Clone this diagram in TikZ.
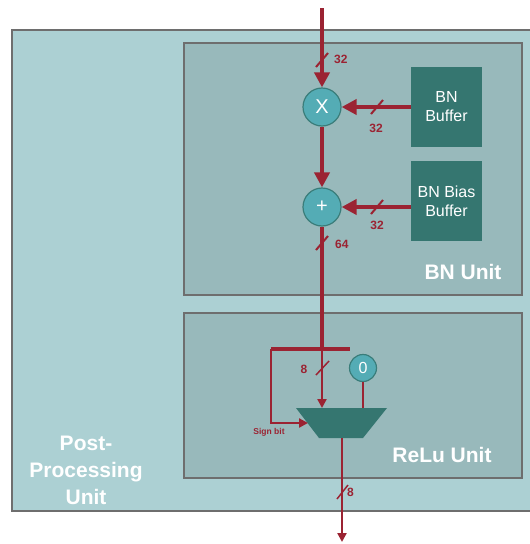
\documentclass[tikz,border=0pt]{standalone}
\usepackage{fontspec}
\setmainfont{Liberation Sans}
\usetikzlibrary{arrows.meta}
\definecolor{outerfill}{RGB}{172,208,211}
\definecolor{innerfill}{RGB}{152,185,187}
\definecolor{boxfill}{RGB}{53,118,112}
\definecolor{circfill}{RGB}{84,172,181}
\definecolor{circline}{RGB}{58,125,122}
\definecolor{wire}{RGB}{155,35,50}
\definecolor{frame}{RGB}{110,110,110}
\tikzset{
  unit/.style={draw=frame,line width=1.5pt},
  buf/.style={fill=boxfill,draw=none,minimum width=71pt,minimum height=80pt,inner sep=0pt,text=white,font=\fontsize{16}{19}\selectfont,align=center},
  op/.style={circle,fill=circfill,draw=circline,line width=1.2pt,minimum size=38pt,inner sep=0pt,text=white,font=\fontsize{20}{20}\selectfont},
  bigwire/.style={draw=wire,line width=4pt,-{Triangle[length=15pt,width=15pt]}},
  thinwire/.style={draw=wire,line width=2.5pt},
  smallarrow/.style={thinwire,-{Triangle[length=9pt,width=9pt]}},
  slash/.style={draw=wire,line width=2pt},
  bits/.style={text=wire,font=\bfseries\fontsize{12}{12}\selectfont,inner sep=0pt},
  title/.style={text=white,font=\bfseries\fontsize{21}{27}\selectfont,align=center,inner sep=0pt}
}
\begin{document}
\begin{tikzpicture}[x=1pt,y=-1pt]
\useasboundingbox (0,0) rectangle (530,544);
% frames
\fill[outerfill] (12,30) rectangle (531,511);
\draw[unit] (531,30) -- (12,30) -- (12,511) -- (531,511);
\draw[unit,fill=innerfill] (184,43) rectangle (522,295);
\draw[unit,fill=innerfill] (184,313) rectangle (522,478);
\node[title] (bnunit) at (463,272) {BN Unit};
\node[title] (reluunit) at (442,455) {ReLu Unit};
\node[title] (ppu) at (86,470) {Post-\\Processing\\Unit};
% blocks
\node[buf] (bnbuf) at (446.5,107) {BN\\Buffer};
\node[buf] (bnbias) at (446.5,201) {BN Bias\\Buffer};
\node[op] (mul) at (322,107) {X};
\node[op] (add) at (322,207) {+};
\node[op,minimum size=27pt,font=\fontsize{16}{16}\selectfont] (zero) at (363,368) {0};
% mux
\coordinate (muxTL) at (296,408);
\coordinate (muxTR) at (387,408);
\coordinate (muxBR) at (363,438);
\coordinate (muxBL) at (319,438);
\fill[boxfill] (muxTL) -- (muxTR) -- (muxBR) -- (muxBL) -- cycle;
% coordinates
\coordinate (in) at (322,8);
\coordinate (split) at (322,349);
\coordinate (barL) at (271,349);
\coordinate (barR) at (350,349);
\coordinate (muxin) at (322,408);
\coordinate (zin) at (363,408);
\coordinate (signin) at (308,423);
\coordinate (muxout) at (342,438);
\coordinate (out) at (342,542);
% wires
\draw[bigwire] (in) -- (mul.north);
\draw[bigwire] (bnbuf.west) -- (mul.east);
\draw[bigwire] (mul.south) -- (add.north);
\draw[bigwire] (bnbias.west |- add.east) -- (add.east);
\draw[draw=wire,line width=4pt] (add.south) -- (split);
\draw[draw=wire,line width=4.5pt] (barL) -- (barR);
\draw[smallarrow] (split) -- (muxin);
\draw[thinwire] (zero.south) -- (zin);
\draw[smallarrow] (barL) |- (signin);
\draw[smallarrow] (muxout) -- (out);
% bus slashes
\draw[slash] (316,67) -- (328,53);
\node[bits,anchor=west] (b1) at (334,59) {32};
\draw[slash] (371,114) -- (383,100);
\node[bits] (b2) at (376,128) {32};
\draw[slash] (371,214) -- (383,200);
\node[bits] (b3) at (377,225) {32};
\draw[slash] (316,250) -- (328,236);
\node[bits,anchor=west] (b4) at (335,244) {64};
\draw[slash,line width=1.5pt] (316,375) -- (329,361);
\node[bits] (b5) at (304,369) {8};
\node[bits,font=\bfseries\fontsize{8.5}{9}\selectfont] (sb) at (269,432) {Sign bit};
\draw[slash,line width=1.5pt] (337,499) -- (348,485);
\node[bits,anchor=west] (b6) at (347,492) {8};
\end{tikzpicture}
\end{document}
